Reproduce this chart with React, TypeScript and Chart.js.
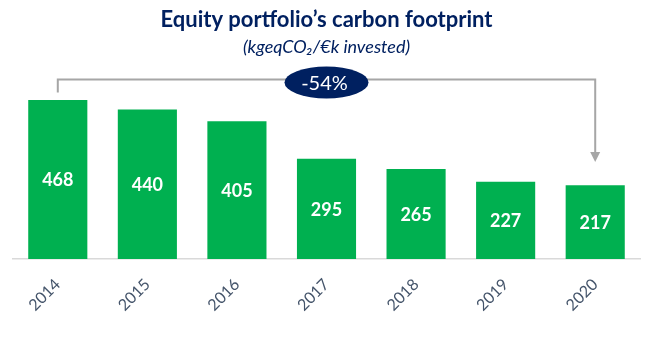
import React, { useEffect, useRef } from "react";
import { Chart, registerables } from "chart.js";

Chart.register(...registerables);

const years = ["2014", "2015", "2016", "2017", "2018", "2019", "2020"];
const footprint = [468, 440, 405, 295, 265, 227, 217];
const changeLabel = "-54%";
const titleText = "Equity portfolio\u2019s carbon footprint";
const subtitleText = "(kgeqCO\u2082/\u20ACk invested)";

const FONT = "Lato, 'Open Sans', sans-serif";

const decorPlugin = {
  id: "decor",
  afterDatasetsDraw(chart: any) {
    const ctx = chart.ctx;
    const meta = chart.getDatasetMeta(0);
    const xs = chart.scales.x;
    const ys = chart.scales.y;
    ctx.save();
    // value labels
    ctx.fillStyle = "#ffffff";
    ctx.font = `bold 18px ${FONT}`;
    ctx.textAlign = "center";
    ctx.textBaseline = "middle";
    meta.data.forEach((bar: any, i: number) => {
      ctx.fillText(String(footprint[i]), bar.x, (bar.y + bar.base) / 2 + 1);
    });

    // bracket arrow
    const x0 = xs.getPixelForValue(0);
    const x1 = xs.getPixelForValue(years.length - 1);
    const yTop = ys.getPixelForValue(528);
    const yLeftEnd = ys.getPixelForValue(490);
    const yTip = ys.getPixelForValue(footprint[footprint.length - 1] + 68);
    ctx.strokeStyle = "#a6a6a6";
    ctx.fillStyle = "#a6a6a6";
    ctx.lineWidth = 2;
    ctx.beginPath();
    ctx.moveTo(x0, yLeftEnd);
    ctx.lineTo(x0, yTop);
    ctx.lineTo(x1, yTop);
    ctx.lineTo(x1, yTip - 8);
    ctx.stroke();
    ctx.beginPath();
    ctx.moveTo(x1 - 5, yTip - 10);
    ctx.lineTo(x1 + 5, yTip - 10);
    ctx.lineTo(x1, yTip);
    ctx.closePath();
    ctx.fill();

    // ellipse
    const cx = (x0 + x1) / 2;
    const cy = yTop + 3;
    ctx.fillStyle = "#002060";
    ctx.beginPath();
    ctx.ellipse(cx, cy, 42, 16, 0, 0, Math.PI * 2);
    ctx.fill();
    ctx.fillStyle = "#ffffff";
    ctx.font = `20px ${FONT}`;
    ctx.fillText(changeLabel, cx - 2, cy + 1);

    // titles
    const tx = (chart.chartArea.left + chart.chartArea.right) / 2;
    ctx.fillStyle = "#002060";
    ctx.font = `bold 22px ${FONT}`;
    ctx.fillText(titleText, tx, 20);
    ctx.font = `italic 18px ${FONT}`;
    ctx.fillText(subtitleText, tx, 47);
    ctx.restore();
  },
};

export default function App() {
  const ref = useRef<HTMLCanvasElement | null>(null);
  useEffect(() => {
    if (!ref.current) return;
    const chart = new Chart(ref.current, {
      type: "bar",
      data: {
        labels: years,
        datasets: [
          {
            data: footprint,
            backgroundColor: "#00b050",
            categoryPercentage: 0.66,
            barPercentage: 1,
          },
        ],
      },
      options: {
        animation: false,
        responsive: true,
        maintainAspectRatio: false,
        layout: { padding: { top: 89, left: 13, right: 17, bottom: 0 } },
        plugins: {
          legend: { display: false },
          tooltip: { enabled: false },
          title: { display: false },
        },
        scales: {
          x: {
            grid: { display: false },
            border: { display: true, color: "#d9d9d9", width: 1.5 },
            ticks: {
              color: "#44546a",
              font: { family: FONT, size: 16 },
              maxRotation: 45,
              minRotation: 45,
              padding: 8,
            },
            afterFit(scale: any) {
              scale.height = 84;
            },
          },
          y: {
            display: false,
            min: 0,
            max: 500,
          },
        },
      },
      plugins: [decorPlugin],
    });
    return () => chart.destroy();
  }, []);
  return (
    <div style={{ position: "fixed", left: 0, top: 0, width: 657, height: 343, background: "#fff" }}>
      <canvas ref={ref} />
    </div>
  );
}
